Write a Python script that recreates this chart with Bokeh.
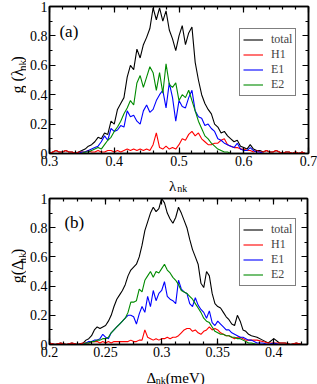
import math
from bokeh.plotting import figure
from bokeh.layouts import column, row
from bokeh.models import (Range1d, LinearAxis, SingleIntervalTicker, CustomJSTickFormatter,
                          Label, Legend, LegendItem)
from bokeh.embed import file_html
from bokeh.resources import INLINE

# ---------------- data: panel (a) ----------------
lam = [0.300, 0.305, 0.310, 0.315, 0.320, 0.325, 0.330, 0.335, 0.340, 0.345,
       0.350, 0.355, 0.360, 0.365, 0.370, 0.375, 0.380, 0.385, 0.390, 0.395,
       0.400, 0.405, 0.410, 0.415, 0.420, 0.425, 0.430, 0.435, 0.440, 0.445,
       0.450, 0.455, 0.460, 0.465, 0.470, 0.475, 0.480, 0.485, 0.490, 0.495,
       0.500, 0.505, 0.510, 0.515, 0.520, 0.525, 0.530, 0.535, 0.540, 0.545,
       0.550, 0.555, 0.560, 0.565, 0.570, 0.575, 0.580, 0.585, 0.590, 0.595,
       0.600, 0.605, 0.610, 0.615, 0.620, 0.625, 0.630, 0.635, 0.640, 0.645,
       0.650, 0.655, 0.660, 0.665, 0.670, 0.675, 0.680, 0.685, 0.690, 0.695,
       0.700]
tot_a = [0.00, 0.01, 0.02, 0.01, 0.01, 0.02, 0.01, 0.01, 0.00, 0.01,
         0.02, 0.03, 0.05, 0.06, 0.08, 0.11, 0.10, 0.14, 0.13, 0.22,
         0.20, 0.30, 0.34, 0.38, 0.52, 0.60, 0.57, 0.71, 0.65, 0.74,
         0.79, 0.85, 0.99, 0.91, 0.99, 0.90, 0.97, 0.84, 0.78, 0.70,
         0.80, 0.87, 0.74, 0.82, 0.86, 0.62, 0.50, 0.40, 0.34, 0.30,
         0.27, 0.20, 0.18, 0.14, 0.15, 0.12, 0.10, 0.08, 0.09, 0.05,
         0.04, 0.03, 0.06, 0.03, 0.02, 0.02, 0.01, 0.02, 0.01, 0.01,
         0.02, 0.01, 0.00, 0.01, 0.01, 0.00, 0.01, 0.00, 0.01, 0.00,
         0.00]
h1_a = [0.00, 0.01, 0.02, 0.01, 0.01, 0.02, 0.01, 0.01, 0.00, 0.01,
        0.01, 0.01, 0.02, 0.01, 0.01, 0.02, 0.01, 0.01, 0.02, 0.02,
        0.01, 0.02, 0.01, 0.02, 0.03, 0.02, 0.03, 0.02, 0.03, 0.02,
        0.03, 0.02, 0.06, 0.14, 0.04, 0.03, 0.05, 0.03, 0.04, 0.03,
        0.06, 0.10, 0.09, 0.13, 0.15, 0.12, 0.14, 0.10, 0.08, 0.06,
        0.06, 0.07, 0.07, 0.09, 0.10, 0.06, 0.05, 0.04, 0.04, 0.03,
        0.03, 0.02, 0.02, 0.01, 0.02, 0.01, 0.01, 0.02, 0.01, 0.01,
        0.02, 0.01, 0.00, 0.01, 0.01, 0.00, 0.01, 0.00, 0.01, 0.00,
        0.00]
e1_a = [0.00, 0.00, 0.00, 0.00, 0.00, 0.00, 0.00, 0.00, 0.00, 0.00,
        0.01, 0.01, 0.02, 0.03, 0.04, 0.05, 0.08, 0.12, 0.09, 0.17,
        0.15, 0.16, 0.19, 0.18, 0.29, 0.25, 0.26, 0.22, 0.20, 0.29,
        0.33, 0.28, 0.30, 0.36, 0.40, 0.43, 0.31, 0.48, 0.38, 0.22,
        0.36, 0.32, 0.31, 0.38, 0.43, 0.29, 0.25, 0.24, 0.19, 0.20,
        0.17, 0.15, 0.10, 0.09, 0.07, 0.06, 0.05, 0.04, 0.07, 0.03,
        0.02, 0.02, 0.04, 0.02, 0.01, 0.01, 0.00, 0.00, 0.00, 0.00,
        0.00, 0.00, 0.00, 0.00, 0.00, 0.00, 0.00, 0.00, 0.00, 0.00,
        0.00]
e2_a = [0.00, 0.00, 0.00, 0.00, 0.00, 0.00, 0.00, 0.00, 0.00, 0.00,
        0.00, 0.01, 0.01, 0.02, 0.03, 0.04, 0.03, 0.06, 0.09, 0.11,
        0.15, 0.18, 0.22, 0.27, 0.31, 0.36, 0.33, 0.48, 0.53, 0.45,
        0.52, 0.59, 0.55, 0.43, 0.55, 0.41, 0.61, 0.47, 0.45, 0.48,
        0.36, 0.40, 0.38, 0.43, 0.36, 0.29, 0.22, 0.17, 0.12, 0.10,
        0.07, 0.05, 0.03, 0.02, 0.01, 0.01, 0.00, 0.00, 0.00, 0.00,
        0.00, 0.00, 0.00, 0.00, 0.00, 0.00, 0.00, 0.00, 0.00, 0.00,
        0.00, 0.00, 0.00, 0.00, 0.00, 0.00, 0.00, 0.00, 0.00, 0.00,
        0.00]

# ---------------- data: panel (b) ----------------
delta = [0.200, 0.205, 0.210, 0.215, 0.220, 0.225,
         0.2300, 0.2325, 0.2350, 0.2375, 0.2400, 0.2425, 0.2450, 0.2475, 0.2500, 0.2525,
         0.2550, 0.2575, 0.2600, 0.2625, 0.2650, 0.2675, 0.2700, 0.2725, 0.2750, 0.2775,
         0.2800, 0.2825, 0.2850, 0.2875, 0.2900, 0.2925, 0.2950, 0.2975, 0.3000, 0.3025,
         0.3050, 0.3075, 0.3100, 0.3125, 0.3150, 0.3175, 0.3200, 0.3225, 0.3250, 0.3275,
         0.3300, 0.3325, 0.3350, 0.3375, 0.3400, 0.3425, 0.3450, 0.3475, 0.3500, 0.3525,
         0.3550, 0.3575, 0.3600, 0.3625, 0.3650, 0.3675, 0.3700, 0.3725, 0.3750, 0.3775,
         0.3800,
         0.385, 0.390, 0.395, 0.400, 0.405, 0.410, 0.415, 0.420, 0.425, 0.430]
tot_b = [0.01, 0.00, 0.01, 0.00, 0.01, 0.00,
         0.01, 0.03, 0.04, 0.06, 0.10, 0.12, 0.11, 0.12, 0.13, 0.16,
         0.20, 0.26, 0.31, 0.34, 0.37, 0.41, 0.47, 0.51, 0.53, 0.55,
         0.60, 0.68, 0.78, 0.84, 0.90, 0.94, 0.91, 0.93, 1.00, 0.97,
         0.90, 0.86, 0.83, 0.87, 0.94, 0.90, 0.85, 0.80, 0.72, 0.65,
         0.60, 0.55, 0.42, 0.39, 0.50, 0.47, 0.35, 0.28, 0.26, 0.25,
         0.22, 0.19, 0.17, 0.14, 0.13, 0.20, 0.16, 0.10, 0.09, 0.07,
         0.06,
         0.05, 0.03, 0.01, 0.04, 0.01, 0.01, 0.00, 0.01, 0.00, 0.00]
h1_b = [0.01, 0.00, 0.01, 0.00, 0.01, 0.00,
        0.01, 0.01, 0.01, 0.02, 0.02, 0.02, 0.01, 0.02, 0.01, 0.02,
        0.01, 0.02, 0.02, 0.02, 0.02, 0.02, 0.02, 0.03, 0.02, 0.02,
        0.03, 0.03, 0.10, 0.05, 0.04, 0.03, 0.04, 0.03, 0.04, 0.04,
        0.05, 0.04, 0.05, 0.05, 0.06, 0.08, 0.10, 0.11, 0.11, 0.09,
        0.10, 0.08, 0.07, 0.09, 0.10, 0.12, 0.10, 0.11, 0.10, 0.08,
        0.07, 0.06, 0.06, 0.05, 0.04, 0.05, 0.05, 0.04, 0.03, 0.03,
        0.03,
        0.03, 0.02, 0.01, 0.01, 0.01, 0.01, 0.00, 0.01, 0.00, 0.00]
e1_b = [0.00, 0.00, 0.00, 0.00, 0.00, 0.00,
        0.00, 0.01, 0.02, 0.02, 0.03, 0.03, 0.04, 0.07, 0.05, 0.04,
        0.08, 0.10, 0.12, 0.14, 0.16, 0.18, 0.20, 0.20, 0.19, 0.14,
        0.21, 0.26, 0.22, 0.33, 0.26, 0.37, 0.30, 0.35, 0.37, 0.43,
        0.33, 0.31, 0.30, 0.28, 0.44, 0.38, 0.36, 0.35, 0.28, 0.26,
        0.32, 0.27, 0.24, 0.22, 0.18, 0.23, 0.15, 0.13, 0.16, 0.14,
        0.12, 0.10, 0.10, 0.08, 0.07, 0.06, 0.05, 0.05, 0.04, 0.03,
        0.03,
        0.01, 0.01, 0.00, 0.01, 0.00, 0.00, 0.00, 0.00, 0.00, 0.00]
e2_b = [0.00, 0.00, 0.00, 0.00, 0.00, 0.00,
        0.00, 0.01, 0.01, 0.02, 0.02, 0.03, 0.03, 0.04, 0.04, 0.05,
        0.08, 0.10, 0.12, 0.14, 0.16, 0.18, 0.22, 0.29, 0.29, 0.30,
        0.38, 0.36, 0.44, 0.47, 0.50, 0.46, 0.50, 0.49, 0.52, 0.55,
        0.51, 0.49, 0.46, 0.44, 0.41, 0.37, 0.36, 0.35, 0.33, 0.31,
        0.28, 0.25, 0.22, 0.18, 0.16, 0.15, 0.12, 0.09, 0.08, 0.07,
        0.07, 0.06, 0.06, 0.05, 0.05, 0.04, 0.04, 0.03, 0.02, 0.01,
        0.01,
        0.00, 0.00, 0.00, 0.00, 0.00, 0.00, 0.00, 0.00, 0.00, 0.00]

series_names = ["total", "H1", "E1", "E2"]
series_colors = ["#000000", "#ff0000", "#0000ff", "#008b00"]

FONT = "Liberation Serif"
TOTAL_W = 317
YLAB_W = 26

CW = {'g': 0.5, ' ': 0.25, '(': 0.333, ')': 0.333, 'λ': 0.55, 'Δ': 0.61,
      'n': 0.5, 'k': 0.5, 'm': 0.778, 'e': 0.444, 'V': 0.722}


def tw(s, size):
    return sum(CW.get(c, 0.5) for c in s) * size


def blank_fig(w, h):
    f = figure(width=w, height=h, x_range=Range1d(0, w), y_range=Range1d(0, h),
               title=None, output_backend="svg", toolbar_location=None, x_axis_type=None,
               y_axis_type=None, min_border=0, min_border_left=0, min_border_right=0,
               min_border_top=0, min_border_bottom=0)
    f.xgrid.visible = False
    f.ygrid.visible = False
    f.outline_line_color = None
    f.background_fill_color = "white"
    f.border_fill_color = "white"
    return f


def text_label(f, x, y, s, size, angle=0.0):
    f.add_layout(Label(x=x, y=y, text=s, text_font=FONT, text_font_size=f"{size}px",
                       text_align="left", text_baseline="alphabetic", angle=angle,
                       text_color="black"))


def make_panel(H, BT, BB, BR, xr, xint, xminor, xs, ys_list, tag, tag_dx, tag_dy,
               leg_loc, xlabel_pieces, ylabel_pieces, strip_h, strip_base, x_standoff):
    BL = 47 - YLAB_W
    W = TOTAL_W - YLAB_W
    p = figure(width=W, height=H, x_range=Range1d(xr[0], xr[1] + 1e-9), y_range=Range1d(0, 1),
               title=None, output_backend="svg", toolbar_location=None, x_axis_type=None,
               y_axis_type=None, min_border_left=BL, min_border_right=BR,
               min_border_top=BT, min_border_bottom=BB)
    p.xgrid.visible = False
    p.ygrid.visible = False
    p.outline_line_color = "black"
    p.outline_line_width = 1.5
    p.background_fill_color = "white"
    p.border_fill_color = "white"
    fmt = CustomJSTickFormatter(code="return parseFloat(tick.toFixed(4)).toString();")
    for side in ["below", "above", "left", "right"]:
        if side in ("below", "above"):
            tk = SingleIntervalTicker(interval=xint, num_minor_ticks=xminor)
        else:
            tk = SingleIntervalTicker(interval=0.2, num_minor_ticks=2)
        ax = LinearAxis(ticker=tk, formatter=fmt)
        ax.major_tick_in = 6
        ax.major_tick_out = 0
        ax.minor_tick_in = 3
        ax.minor_tick_out = 0
        ax.axis_line_width = 1.5
        ax.major_tick_line_width = 1.2
        ax.minor_tick_line_width = 1.2
        if side in ("below", "left"):
            ax.major_label_text_font = FONT
            ax.major_label_text_font_size = "14px"
            ax.major_label_text_color = "black"
            ax.major_label_standoff = x_standoff if side == "below" else 2
        else:
            ax.major_label_text_font_size = "1px"
            ax.major_label_text_color = None
            ax.major_label_standoff = 0
        p.add_layout(ax, side)

    renderers = []
    for ys, c in zip(ys_list, series_colors):
        r = p.line(xs, ys, line_color=c, line_width=1.1)
        renderers.append(r)

    leg = Legend(items=[LegendItem(label=n, renderers=[r]) for n, r in zip(series_names, renderers)],
                 location=leg_loc, orientation="vertical")
    leg.label_text_font = FONT
    leg.label_text_font_size = "12px"
    leg.label_height = 13
    leg.glyph_height = 13
    leg.glyph_width = 20
    leg.label_standoff = 8
    leg.padding = 3
    leg.spacing = 0
    leg.margin = 0
    leg.border_line_color = "black"
    leg.border_line_width = 1
    leg.background_fill_alpha = 1.0
    p.add_layout(leg, "center")

    fl, fr = BL, W - BR
    ft, fb = BT, H - BB

    # panel tag (inside frame, data coordinates)
    tx = xr[0] + tag_dx / (fr - fl) * (xr[1] - xr[0])
    ty = (fb - ft - tag_dy) / (fb - ft)
    p.add_layout(Label(x=tx, y=ty, text=tag, text_font=FONT, text_font_size="17px",
                       text_align="left", text_baseline="alphabetic", text_color="black"))

    # y label strip (rotated text with subscript)
    yl = blank_fig(YLAB_W, H)
    total = sum(tw(s, sz) for s, sz, dx in ylabel_pieces)
    cy = (ft + fb) / 2 + total / 2  # from top
    basex = 17
    for s, sz, dx in ylabel_pieces:
        text_label(yl, basex + dx, H - cy, s, sz, angle=math.pi / 2)
        cy -= tw(s, sz)

    # x label strip
    xl = blank_fig(TOTAL_W, strip_h)
    total = sum(tw(s, sz) for s, sz, dy in xlabel_pieces)
    cx = YLAB_W + (fl + fr) / 2 - total / 2
    for s, sz, dy in xlabel_pieces:
        text_label(xl, cx, strip_h - (strip_base + dy), s, sz)
        cx += tw(s, sz)

    return column(row(yl, p, spacing=0), xl, spacing=0)


block_a = make_panel(170, 6, 17, 9, (0.3, 0.7), 0.1, 5, lam, [tot_a, h1_a, e1_a, e2_a],
                     "(a)", 10, 25, (190, 57),
                     [("λ", 15, 0), ("nk", 10, 3)],
                     [("g (λ", 16, 0), ("nk", 11, 4), (")", 16, 0)],
                     22, 15, 2)
block_b = make_panel(170, 6, 18, 10, (0.2, 0.43), 0.05, 4, delta, [tot_b, h1_b, e1_b, e2_b],
                     "(b)", 15, 24, (190, 58),
                     [("Δ", 15, 0), ("nk", 10, 3), (" (meV)", 15, 0)],
                     [("g(Δ", 16, 0), ("nk", 11, 4), (")", 16, 0)],
                     22, 15, 2)

layout = column(block_a, block_b, spacing=0)
open("out.html", "w").write(file_html(layout, INLINE))
